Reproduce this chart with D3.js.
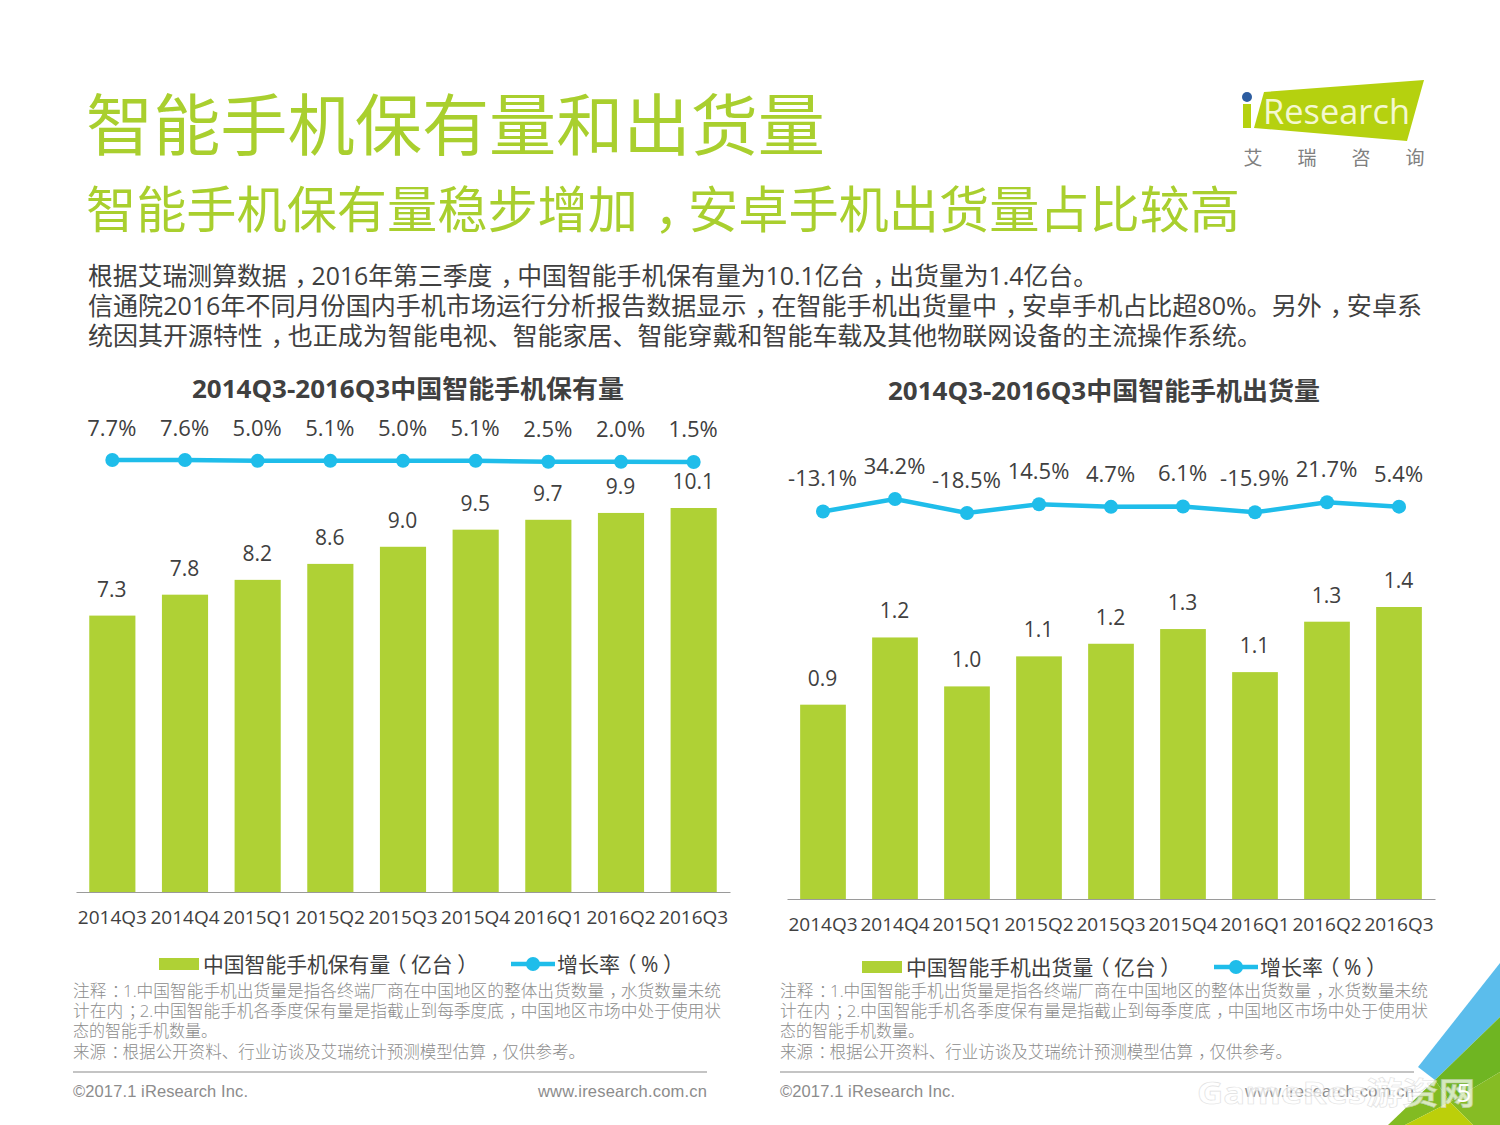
<!DOCTYPE html>
<html><head><meta charset="utf-8">
<script src="https://cdn.jsdelivr.net/npm/d3@7"></script>
<style>html,body{margin:0;padding:0;background:#fff}svg{display:block}
text{font-family:"Open Sans","Noto Sans CJK SC",sans-serif}</style></head><body>
<svg id="c" width="1500" height="1125" viewBox="0 0 1500 1125"></svg>
<script>
const quarters=["2014Q3","2014Q4","2015Q1","2015Q2","2015Q3","2015Q4","2016Q1","2016Q2","2016Q3"];
const stockValues=[7.27,7.82,8.21,8.63,9.08,9.53,9.79,9.97,10.1];
const stockLabels=["7.3","7.8","8.2","8.6","9.0","9.5","9.7","9.9","10.1"];
const stockGrowth=[7.7,7.6,5.0,5.1,5.0,5.1,2.5,2.0,1.5];
const shipValues=[0.925,1.245,1.012,1.155,1.215,1.285,1.08,1.32,1.39];
const shipLabels=["0.9","1.2","1.0","1.1","1.2","1.3","1.1","1.3","1.4"];
const shipGrowth=[-13.1,34.2,-18.5,14.5,4.7,6.1,-15.9,21.7,5.4];
const title="智能手机保有量和出货量";
const subtitle="智能手机保有量稳步增加，安卓手机出货量占比较高";
const bodyLines=["根据艾瑞测算数据，2016年第三季度，中国智能手机保有量为10.1亿台，出货量为1.4亿台。",
"信通院2016年不同月份国内手机市场运行分析报告数据显示，在智能手机出货量中，安卓手机占比超80%。另外，安卓系",
"统因其开源特性，也正成为智能电视、智能家居、智能穿戴和智能车载及其他物联网设备的主流操作系统。"];
const noteLines=["注释：1.中国智能手机出货量是指各终端厂商在中国地区的整体出货数量，水货数量未统",
"计在内；2.中国智能手机各季度保有量是指截止到每季度底，中国地区市场中处于使用状",
"态的智能手机数量。","来源：根据公开资料、行业访谈及艾瑞统计预测模型估算，仅供参考。"];

const GREEN="#afd135",BLUE="#1fbdea",TXT="#404040";
const svg=d3.select("#c");
const T=(x,y,s,size,fill,anchor,weight,len)=>{
 const t=svg.append("text").attr("x",x).attr("y",y).text(s)
 .attr("font-size",size).attr("fill",fill).attr("text-anchor",anchor||"start").attr("font-weight",weight||400);
 // per-glyph nudges that centre full-width punctuation inside its cell
 const shift={"，":.32,"：":.32,"；":.32,"（":-.22,"）":.22};
 const chars=Array.from(s);
 if(chars.some(c=>shift[c])){
  const dx=chars.map(()=>0);
  chars.forEach((c,i)=>{if(shift[c]){dx[i]+=shift[c]*size;if(i+1<chars.length)dx[i+1]-=shift[c]*size;}});
  t.attr("dx",dx.map(v=>v.toFixed(2)).join(" "));
 }
 if(len)t.attr("textLength",len).attr("lengthAdjust","spacingAndGlyphs");return t;};

// decoration
svg.append("polygon").attr("points","1500,963 1500,1017 1435,1080 1418,1067").attr("fill","#5bbdec");
svg.append("polygon").attr("points","1500,1017 1500,1072 1450,1102 1435,1080").attr("fill","#6fb522");
svg.append("polygon").attr("points","1435,1080 1450,1102 1405,1125 1388,1125").attr("fill","#82bb22");
svg.append("polygon").attr("points","1500,1072 1500,1125 1473,1125 1450,1102").attr("fill","#86bc24");
svg.append("polygon").attr("points","1450,1102 1473,1125 1405,1125").attr("fill","#bccf0a");

// heading
T(86,150,title,67,"#a9cf2e","start",400,739);
T(86,228,subtitle,50,"#a9cf2e","start",400,1154);
bodyLines.forEach((s,i)=>T(88,[285,315,345][i],s,25,"#404040","start",400,[1010,1334,1174][i]));

// logo
svg.append("polygon").attr("points","1264,92 1424,80 1407,141 1254,128").attr("fill","#b5d10f");
svg.append("rect").attr("x",1243).attr("y",104).attr("width",8).attr("height",24).attr("fill","#b5d10f");
svg.append("circle").attr("cx",1247).attr("cy",97).attr("r",5).attr("fill","#2d5da0");
T(1263,124,"Research",35,"#f4f8d0","start",400,147);
["艾","瑞","咨","询"].forEach((s,i)=>T(1253+i*54,165,s,19,"#808080","middle",400));

function panel(o){
 const x=d3.scaleBand().domain(quarters).range([o.x0,o.x1]).paddingInner(.365).paddingOuter(.1825);
 const y=d3.scaleLinear().domain([0,o.max]).range([o.base,o.top]);
 const ly=d3.scaleLinear().domain(o.lDomain).range(o.lRange);
 T(o.titleX,o.titleY,o.title,25,"#404040","middle",700,432);
 svg.append("g").selectAll("rect").data(o.values).join("rect")
  .attr("x",(d,i)=>x(quarters[i])).attr("width",x.bandwidth())
  .attr("y",d=>y(d)).attr("height",d=>o.base-y(d)).attr("fill",GREEN);
 const ax=svg.append("g").attr("transform",`translate(0,${o.base})`).call(d3.axisBottom(x).tickSize(0).tickPadding(o.tickPad));
 ax.select(".domain").attr("stroke","#9a9a9a").attr("stroke-width",1.2);
 ax.selectAll("text").attr("font-size",19).attr("fill",TXT).attr("font-family",'"Open Sans","Noto Sans CJK SC",sans-serif');
 o.labels.forEach((s,i)=>T(x(quarters[i])+x.bandwidth()/2-.5,y(o.values[i])-19,s,21,TXT,"middle"));
 const line=d3.line().x((d,i)=>x(quarters[i])+x.bandwidth()/2).y(d=>ly(d));
 svg.append("path").datum(o.growth).attr("d",line).attr("fill","none").attr("stroke",BLUE).attr("stroke-width",4.5);
 svg.append("g").selectAll("circle").data(o.growth).join("circle")
  .attr("cx",(d,i)=>x(quarters[i])+x.bandwidth()/2).attr("cy",d=>ly(d)).attr("r",7).attr("fill",BLUE);
 o.growth.forEach((d,i)=>T(x(quarters[i])+x.bandwidth()/2-.5,o.gLabelY[i],d.toFixed(1)+"%",22,TXT,"middle"));
 // legend
 svg.append("rect").attr("x",o.legX).attr("y",o.legY-6).attr("width",40).attr("height",12).attr("fill",GREEN);
 T(o.legX+44,o.legY+8,o.legName,21,TXT,"start",400,275);
 svg.append("line").attr("x1",o.legX+352).attr("x2",o.legX+396).attr("y1",o.legY).attr("y2",o.legY).attr("stroke",BLUE).attr("stroke-width",4.5);
 svg.append("circle").attr("cx",o.legX+374).attr("cy",o.legY).attr("r",7).attr("fill",BLUE);
 T(o.legX+398,o.legY+8,"增长率（%）",21,TXT,"start",400,127);
 // notes
 noteLines.forEach((s,i)=>T(o.noteX,o.noteY+i*20.2,s,17,"#8c8c8c","start",300,[648,648,144,512][i]));
 svg.append("line").attr("x1",o.noteX).attr("x2",o.noteX+634).attr("y1",1072).attr("y2",1072).attr("stroke","#8a8a8a").attr("stroke-width",1.2);
 T(o.noteX,1097,"©2017.1 iResearch Inc.",16.5,"#8c8c8c").style("font-family","Liberation Sans").attr("textLength",175);
 T(o.noteX+634,1097,"www.iresearch.com.cn",16.5,"#8c8c8c","end").style("font-family","Liberation Sans").attr("textLength",169);
}
panel({x0:76,x1:730,base:892,top:508,max:10.1,values:stockValues,labels:stockLabels,growth:stockGrowth,
 lDomain:[1.5,7.7],lRange:[462,460],gLabelY:[436,436,436,436,436,436,437,437,437],title:"2014Q3-2016Q3中国智能手机保有量",titleX:408,titleY:398,
 tickPad:19,legX:159,legY:964,legName:"中国智能手机保有量（亿台）",noteX:73,noteY:997});
panel({x0:787,x1:1435,base:899,top:607,max:1.39,values:shipValues,labels:shipLabels,growth:shipGrowth,
 lDomain:[-18.5,34.2],lRange:[513,499],gLabelY:[486,474,488,479,482,481,486,477,482],title:"2014Q3-2016Q3中国智能手机出货量",titleX:1104,titleY:400,
 tickPad:19,legX:862,legY:967,legName:"中国智能手机出货量（亿台）",noteX:780,noteY:997});

// watermark
T(1197,1104,"GameRes游资网",31,"#ffffff","start",700,278).attr("opacity",.7).attr("stroke","#d4d4d4").attr("stroke-width",.6);
T(1464,1102,"5",26,"#ffffff","middle");
</script></body></html>
